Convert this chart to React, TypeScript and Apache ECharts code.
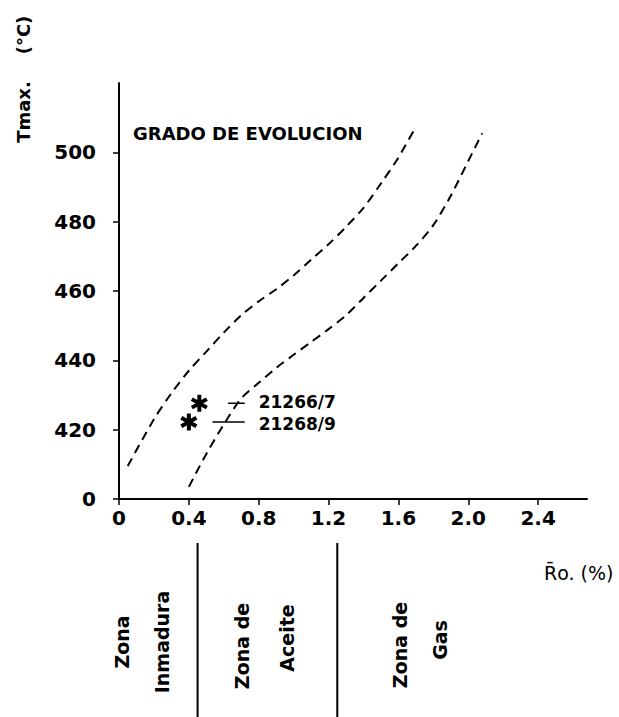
import React, { useEffect, useRef } from 'react';
import * as echarts from 'echarts';

// Axis ticks
const xTicks = [0, 0.4, 0.8, 1.2, 1.6, 2.0, 2.4];
const yTicks = [400, 420, 440, 460, 480, 500];

// Upper (left) dashed boundary: Ro (%) vs Tmax (°C)
const upperRo = [0.05, 0.2, 0.3, 0.4, 0.5, 0.6, 0.7, 0.8, 0.9, 1.0, 1.1, 1.2, 1.3, 1.4, 1.5, 1.6, 1.69];
const upperT = [409.5, 423, 430.5, 437, 442.5, 448, 453, 457, 460.5, 464.5, 469, 473.5, 478.5, 484, 491, 498.5, 506.5];

// Lower (right) dashed boundary
const lowerRo = [0.4, 0.5, 0.6, 0.7, 0.8, 0.9, 1.0, 1.1, 1.2, 1.3, 1.4, 1.5, 1.6, 1.7, 1.8, 1.9, 2.0, 2.08];
const lowerT = [403.5, 413, 421.5, 429, 433.5, 437.8, 441.6, 445.3, 449, 453, 458, 463, 468, 473, 479, 487.5, 497.5, 505.5];

// Samples
const sampleNames = ['21266/7', '21268/9'];
const sampleRo = [0.46, 0.40];
const sampleT = [427.6, 422.2];
const leaderStartRo = [0.625, 0.535];
const leaderEndRo = 0.72;
const labelRo = 0.80;

// Maturity zone boundaries (Ro %)
const zoneBounds = [0.45, 1.25];

const asterisk =
  'path://M-2.3 -10 L2.3 -10 L2.3 10 L-2.3 10 Z ' +
  'M-9.81 -3.01 L-7.51 -6.99 L9.81 3.01 L7.51 6.99 Z ' +
  'M-7.51 6.99 L-9.81 3.01 L7.51 -6.99 L9.81 -3.01 Z';

const FONT = 'DejaVu Sans';

export default function App() {
  const ref = useRef<HTMLDivElement>(null);
  useEffect(() => {
    const chart = echarts.init(ref.current!, null, { renderer: 'svg' });
    const dashed = { color: '#000', width: 2, type: [9, 6] as number[] };
    const labelShift = [-1.5, 1.5];
    const option: any = {
      animation: false,
      backgroundColor: '#fff',
      grid: { left: 119, top: 83, right: 32, bottom: 218 },
      xAxis: {
        type: 'value',
        min: 0,
        max: 2.68,
        axisLine: { show: true, onZero: false, lineStyle: { color: '#000', width: 2 } },
        axisTick: { show: true, customValues: xTicks, length: 6, lineStyle: { color: '#000', width: 1.5 } },
        axisLabel: {
          customValues: xTicks,
          formatter: (v: number) => (v === 0 ? '0' : v.toFixed(1)),
          margin: 9,
          fontFamily: FONT,
          fontWeight: 'bold',
          fontSize: 20,
          color: '#000',
        },
        splitLine: { show: false },
      },
      yAxis: {
        type: 'value',
        min: 400,
        max: 520,
        axisLine: { show: true, onZero: false, lineStyle: { color: '#000', width: 2 } },
        axisTick: { show: true, customValues: yTicks, length: 6, lineStyle: { color: '#000', width: 1.5 } },
        axisLabel: {
          customValues: yTicks,
          formatter: (v: number) => (v === 400 ? '0' : String(v)),
          margin: 23,
          fontFamily: FONT,
          fontWeight: 'bold',
          fontSize: 20,
          color: '#000',
        },
        splitLine: { show: false },
      },
      series: [
        {
          type: 'line',
          data: upperRo.map((x, i) => [x, upperT[i]]),
          smooth: 0.3,
          symbol: 'none',
          lineStyle: dashed,
        },
        {
          type: 'line',
          data: lowerRo.map((x, i) => [x, lowerT[i]]),
          smooth: 0.3,
          symbol: 'none',
          lineStyle: dashed,
        },
        ...sampleNames.map((_, i) => ({
          type: 'line',
          data: [
            [leaderStartRo[i], sampleT[i]],
            [leaderEndRo, sampleT[i]],
          ],
          symbol: 'none',
          lineStyle: { color: '#000', width: 1.4 },
        })),
        {
          type: 'scatter',
          data: sampleRo.map((x, i) => [x, sampleT[i]]),
          symbol: asterisk,
          symbolSize: 17,
          itemStyle: { color: '#000', opacity: 1 },
        },
        {
          type: 'scatter',
          data: sampleNames.map((n, i) => ({
            name: n,
            value: [labelRo, sampleT[i]],
            label: { offset: [0, labelShift[i]] },
          })),
          symbolSize: 0,
          itemStyle: { color: '#000', opacity: 1 },
          label: {
            show: true,
            position: 'right',
            distance: 0,
            formatter: (p: any) => p.name,
            fontFamily: FONT,
            fontWeight: 'bold',
            fontSize: 17,
            lineHeight: 17,
            color: '#000',
            opacity: 1,
          },
        },
      ],
    };
    chart.setOption(option);

    const px = (x: number, y: number) => chart.convertToPixel({ gridIndex: 0 }, [x, y]) as number[];
    const txt = (text: string, x: number, y: number, size: number, rot = 0, align = 'center', weight = 'bold') => ({
      type: 'text',
      x,
      y,
      rotation: rot,
      style: {
        text,
        fontFamily: FONT,
        fontWeight: weight,
        fontSize: size,
        fill: '#000',
        align,
        verticalAlign: 'middle',
      },
    });
    const R = Math.PI / 2;
    const graphic: any[] = [
      ...zoneBounds.map((b) => {
        const x = px(b, 400)[0];
        return { type: 'line', shape: { x1: x, y1: 543, x2: x, y2: 717 }, style: { stroke: '#000', lineWidth: 2 } };
      }),
      txt('GRADO DE EVOLUCION', 133, 133, 18, 0, 'left'),
      txt('Tmax.', 23, 112, 18, R),
      txt('(°C)', 23, 35, 18, R),
      txt('R\u0304o. (%)', 544, 573, 19, 0, 'left', 'normal'),
      txt('Zona', 122, 642, 19, R),
      txt('Inmadura', 162, 642, 19, R),
      txt('Zona de', 242, 646, 19, R),
      txt('Aceite', 287, 638, 19, R),
      txt('Zona de', 400, 645, 19, R),
      txt('Gas', 440, 640, 19, R),
    ];
    chart.setOption({ graphic });
    return () => chart.dispose();
  }, []);
  return <div ref={ref} style={{ position: 'fixed', left: 0, top: 0, width: 619, height: 717 }} />;
}
